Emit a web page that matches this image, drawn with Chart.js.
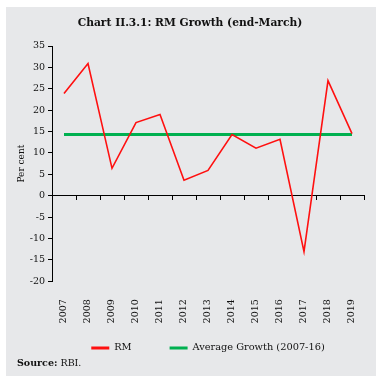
<!DOCTYPE html>
<html><head><meta charset="utf-8">
<script src="https://cdn.jsdelivr.net/npm/chart.js@4/dist/chart.umd.min.js"></script>
<style>
html,body{margin:0;padding:0;background:#fff;}
#wrap{position:relative;width:383px;height:383px;}
#title{position:absolute;left:0;width:380px;top:16px;text-align:center;font:bold 10.7px "DejaVu Serif";color:#111;}
#src{position:absolute;left:17px;top:357px;font:9.5px "DejaVu Serif";color:#111;}
</style></head>
<body>
<div id="wrap">
<canvas id="c" width="383" height="383"></canvas>
<div id="title">Chart II.3.1: RM Growth (end-March)</div>
<div id="src"><b>Source:</b> RBI.</div>
</div>
<script>
const years = ["2007","2008","2009","2010","2011","2012","2013","2014","2015","2016","2017","2018","2019"];
const rmGrowth = [23.9, 30.9, 6.4, 17.1, 19.0, 3.6, 5.9, 14.3, 11.1, 13.2, -13.1, 26.9, 14.5];
const avgGrowth = [14.3, 14.3, 14.3, 14.3, 14.3, 14.3, 14.3, 14.3, 14.3, 14.3, 14.3, 14.3, 14.3];
const yMin = -20, yMax = 35, yStep = 5;

const bg = {
  id:'bg',
  beforeDraw(chart){
    const ctx = chart.ctx;
    ctx.save();
    ctx.fillStyle='#ffffff';ctx.fillRect(0,0,383,383);
    ctx.fillStyle='#e7e8ea';ctx.fillRect(6,7,370,369);
    ctx.restore();
  }
};
// move the legend row to where the reference places it (centred under the plot)
const legendShift = {
  id:'legendShift',
  afterLayout(chart){
    const lg = chart.legend;
    if(!lg) return;
    const pad = lg.options.labels.padding;
    const dy = 343 - (lg.top + pad);
    lg.top += dy; lg.bottom += dy;
    const ca = chart.chartArea;
    const dx = (ca.left + ca.right)/2 - (lg.left + lg.right)/2;
    lg.left += dx; lg.right += dx;
  }
};
const serif = "'DejaVu Serif'";
new Chart(document.getElementById('c'), {
  type:'line',
  data:{
    labels: years,
    datasets:[
      {label:'RM', data: rmGrowth, borderColor:'#ff1010', backgroundColor:'#ff1010', borderWidth:1.6, pointRadius:0, tension:0, xAxisID:'x'},
      {label:'Average Growth (2007-16)', data: avgGrowth, borderColor:'#00b050', backgroundColor:'#00b050', borderWidth:3, pointRadius:0, tension:0, xAxisID:'x'}
    ]
  },
  options:{
    responsive:false, animation:false,
    layout:{padding:{top:46,right:19,left:0,bottom:0}},
    plugins:{
      title:{display:false},
      tooltip:{enabled:false},
      legend:{
        position:'bottom', fullSize:true,
        labels:{
          font:{family:serif,size:9.8}, color:'#111', boxWidth:18, boxHeight:3, padding:38,
          generateLabels(chart){
            return chart.data.datasets.map((d,i)=>({text:d.label, fillStyle:d.borderColor, strokeStyle:d.borderColor, lineWidth:0, datasetIndex:i, hidden:false, fontColor:'#111'}));
          }
        }
      }
    },
    scales:{
      x:{
        type:'category', position:{y:0}, offset:true,
        ticks:{display:false},
        grid:{display:true, offset:true, drawOnChartArea:false, drawTicks:true, tickLength:4, color:'#000', lineWidth:1},
        border:{display:true, color:'#000', width:1}
      },
      x2:{
        type:'category', labels: years, position:'bottom', offset:true,
        grid:{display:false, drawTicks:false},
        border:{display:false},
        ticks:{font:{family:serif,size:9.5}, color:'#111', minRotation:90, maxRotation:90, padding:18, autoSkip:false},
        afterFit(s){ s.height = 44; }
      },
      y:{
        min:yMin, max:yMax,
        ticks:{stepSize:yStep, font:{family:serif,size:9.5}, color:'#111', padding:3},
        grid:{display:true, drawOnChartArea:false, drawTicks:true, tickLength:4, color:'#000'},
        border:{display:true, color:'#000', width:1},
        title:{display:true, text:'Per cent', font:{family:serif,size:9}, color:'#111', padding:{top:16,bottom:0}},
        afterFit(s){ s.width = 52; }
      }
    }
  },
  plugins:[bg, legendShift]
});
</script>
</body></html>
